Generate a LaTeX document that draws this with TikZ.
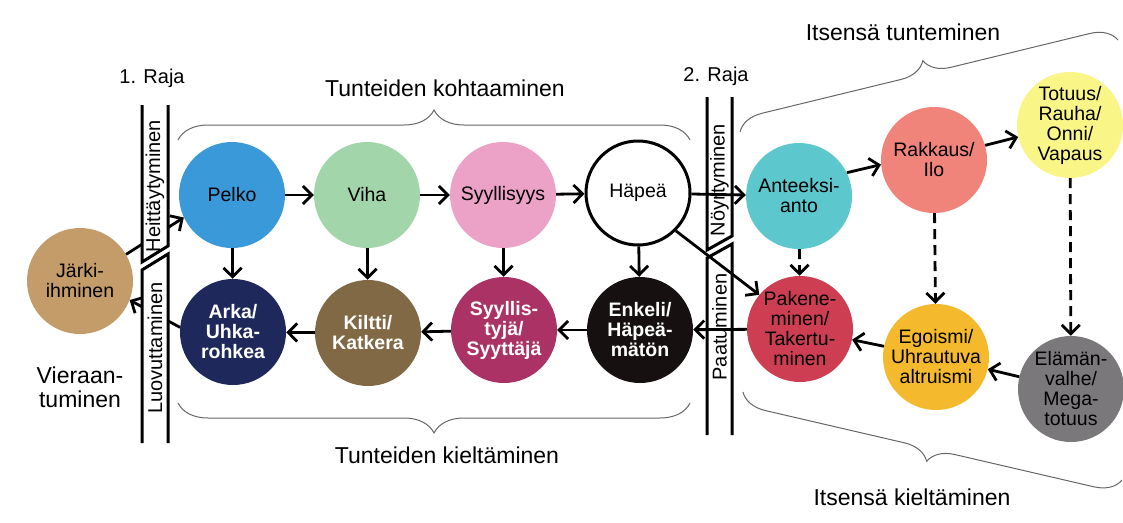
\documentclass[tikz,border=0pt]{standalone}
\usepackage{fontspec}
\setmainfont{Liberation Sans}
\usetikzlibrary{arrows.meta,decorations.pathreplacing}

\definecolor{jarkivari}{RGB}{196,156,106}
\definecolor{pelkovari}{RGB}{58,154,217}
\definecolor{vihavari}{RGB}{162,214,170}
\definecolor{syyllvari}{RGB}{236,162,198}
\definecolor{arkavari}{RGB}{30,40,90}
\definecolor{kilttivari}{RGB}{130,105,70}
\definecolor{syyttvari}{RGB}{170,50,100}
\definecolor{enkelivari}{RGB}{22,16,16}
\definecolor{anteekvari}{RGB}{92,200,205}
\definecolor{rakkausvari}{RGB}{240,132,122}
\definecolor{totuusvari}{RGB}{250,245,135}
\definecolor{pakenevari}{RGB}{205,62,82}
\definecolor{egovari}{RGB}{245,185,45}
\definecolor{valhevari}{RGB}{122,120,122}

\begin{document}
\begin{tikzpicture}[x=1pt,y=-1pt,
    pallo/.style={circle,minimum size=106pt,inner sep=0pt,align=center,font=\fontsize{19.5}{20}\selectfont},
    tumma/.style={pallo,text=white,font=\fontsize{19.5}{20}\selectfont\bfseries},
    nuoli/.style={line width=2.8pt,-{Straight Barb[length=9pt,width=18pt,line width=2.8pt]}},
    katko/.style={nuoli,dash pattern=on 10pt off 6pt},
    seina/.style={line width=3pt},
    seinasana/.style={rotate=90,inner sep=1pt,font=\fontsize{20}{20}\selectfont},
    sana/.style={font=\fontsize{23}{24}\selectfont},
    klammari/.style={draw=black!60,line width=1pt,decorate,decoration={brace,amplitude=#1}}
]
\useasboundingbox (0,0) rectangle (1123,522);

\node[pallo,fill=jarkivari] (jarki) at (80,281) {Järki-\\ihminen};

\node[pallo,fill=pelkovari] (pelko) at (232,195) {Pelko};
\node[pallo,fill=vihavari] (viha) at (367,195) {Viha};
\node[pallo,fill=syyllvari] (syyll) at (503,195) {Syyllisyys};
\node[pallo,draw,line width=3pt,fill=white,minimum size=104pt] (hapea) at (638,193) {Häpeä};

\node[tumma,fill=arkavari] (arka) at (233,332) {Arka/\\Uhka-\\rohkea};
\node[tumma,fill=kilttivari] (kiltti) at (368,333) {Kiltti/\\Katkera};
\node[tumma,fill=syyttvari] (syytt) at (504,330) {Syyllis-\\tyjä/\\Syyttäjä};
\node[tumma,fill=enkelivari] (enkeli) at (640,330) {Enkeli/\\Häpeä-\\mätön};

\node[pallo,fill=anteekvari] (anteeksi) at (799,196) {Anteeksi-\\anto};
\node[pallo,fill=rakkausvari] (rakkaus) at (934,160) {Rakkaus/\\Ilo};
\node[pallo,fill=totuusvari] (totuus) at (1070,125) {Totuus/\\Rauha/\\Onni/\\Vapaus};
\node[pallo,fill=pakenevari] (pakene) at (800,329) {Pakene-\\minen/\\Takertu-\\minen};
\node[pallo,fill=egovari] (ego) at (936,357) {Egoismi/\\Uhrautuva\\altruismi};
\node[pallo,fill=valhevari] (valhe) at (1071,389) {Elämän-\\valhe/\\Mega-\\totuus};

\foreach \a/\b in {pelko/viha,viha/syyll,syyll/hapea,pelko/arka,viha/kiltti,syyll/syytt,hapea/enkeli,enkeli/syytt,syytt/kiltti,kiltti/arka,hapea/anteeksi,pakene/enkeli,ego/pakene,valhe/ego}
    \draw[nuoli] (\a) -- (\b);
\draw[nuoli] (hapea.-45) -- (pakene.140);
\draw[nuoli] (anteeksi.26) -- (rakkaus.185);
\draw[nuoli] (rakkaus.16) -- (totuus.193);
\foreach \a/\b in {anteeksi/pakene,rakkaus/ego,totuus/valhe}
    \draw[katko] (\a) -- (\b);
\draw[nuoli] (jarki.30) -- (pelko.205);
\draw[nuoli] (arka.175) -- (jarki.-21);

\fill[white] (142,105) -- (142,262) -- (168,246) -- (168,105) -- cycle;
\fill[white] (142,443) -- (142,270) -- (168,254) -- (168,443) -- cycle;
\draw[seina] (142,105) -- (142,262) -- (168,246) -- (168,105);
\draw[seina] (142,443) -- (142,270) -- (168,254) -- (168,443);
\node[seinasana] (heitt) at (155,186) {Heittäytyminen};
\node[seinasana] (luovu) at (155,348) {Luovuttaminen};

\draw[seina] (707,97) -- (707,250) -- (732,236) -- (732,97);
\draw[seina] (707,435) -- (707,258) -- (732,244) -- (732,435);
\node[seinasana] (noyrt) at (719.5,180) {Nöyrtyminen};
\node[seinasana] (paatu) at (719.5,327) {Paatuminen};

\node[font=\fontsize{20}{20}\selectfont] (raja1) at (152,78) {1. Raja};
\node[font=\fontsize{20}{20}\selectfont] (raja2) at (716,76) {2. Raja};
\node[sana] (kohtaa) at (445,88) {Tunteiden kohtaaminen};
\node[sana] (kielto) at (447,455) {Tunteiden kieltäminen};
\node[sana] (tunte) at (903,32) {Itsensä tunteminen};
\node[sana] (itsekielto) at (912,497) {Itsensä kieltäminen};
\node[sana,align=center] (vieraan) at (80,387) {Vieraan-\\tuminen};

\draw[klammari=30pt] (178,140) -- (690,140);
\draw[klammari=30pt] (690,403) -- (178,403);
\draw[klammari=26pt] (740,132) -- (1118,40);
\draw[klammari=26pt] (1122,480) -- (743,392);
\end{tikzpicture}
\end{document}
